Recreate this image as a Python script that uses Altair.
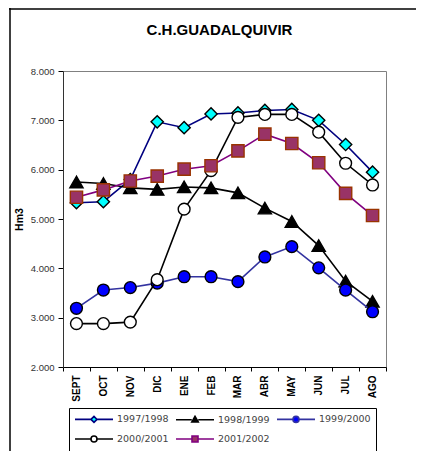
import altair as alt
import pandas as pd

months = ["SEPT", "OCT", "NOV", "DIC", "ENE", "FEB", "MAR", "ABR", "MAY", "JUN", "JUL", "AGO"]
series_names = ["1997/1998", "1998/1999", "1999/2000", "2000/2001", "2001/2002"]

s9798 = [5330, 5350, 5800, 6970, 6850, 7130, 7150, 7200, 7220, 7000, 6510, 5950]
s9899 = [5750, 5720, 5630, 5600, 5650, 5630, 5530, 5220, 4950, 4460, 3740, 3330]
s9900 = [3190, 3560, 3610, 3700, 3830, 3830, 3730, 4230, 4440, 4010, 3560, 3120]
s0001 = [2880, 2880, 2910, 3770, 5200, 5980, 7060, 7120, 7120, 6760, 6130, 5690]
s0102 = [5440, 5590, 5770, 5870, 6010, 6080, 6380, 6720, 6530, 6140, 5520, 5070]
values = [s9798, s9899, s9900, s0001, s0102]

rows = []
for name, vals in zip(series_names, values):
    for m, v in zip(months, vals):
        rows.append({"serie": name, "mes": m, "hm3": v})
df = pd.DataFrame(rows)

line_colors = ["#000080", "#000000", "#3333A0", "#000000", "#800080"]
fill_colors = ["#00FFFF", "#000000", "#0000FF", "#FFFFFF", "#993366"]
stroke_colors = ["#000000", "#000000", "#000000", "#000000", "#993300"]
shapes = ["diamond", "triangle-up", "circle", "circle", "square"]
sizes = [150, 175, 140, 140, 150]

legend_paths = [
    "M-1,0H2.2M3.4,0H6.6M2.2,0L2.8,-0.6L3.4,0L2.8,0.6Z",
    "M-1,0H2.15M3.45,0H6.6M2.15,0.45L2.8,-0.7L3.45,0.45Z",
    "M-1,0H2.2M3.4,0H6.6M2.2,0A0.6,0.6 0 1,0 3.4,0A0.6,0.6 0 1,0 2.2,0Z",
    "M-1,0H2.2M3.4,0H6.6M2.2,0A0.6,0.6 0 1,0 3.4,0A0.6,0.6 0 1,0 2.2,0Z",
    "M-1,0H2.2M3.4,0H6.6M2.2,-0.6H3.4V0.6H2.2Z",
]

W, H = 323, 296

x_enc = alt.X(
    "mes:N", sort=months, title=None,
    scale=alt.Scale(type="band", paddingInner=0, paddingOuter=0),
    axis=alt.Axis(labelAngle=270, labelAlign="right", labelBaseline="middle",
                  labelFont="Liberation Sans", labelFontSize=10, labelFontWeight="bold",
                  labelColor="#000000", labelPadding=4, tickBand="extent",
                  tickColor="#000000", tickSize=4, domainColor="#000000", labelOverlap=False),
)
y_enc = alt.Y(
    "hm3:Q", title="Hm3",
    scale=alt.Scale(domain=[2000, 8000], nice=False),
    axis=alt.Axis(values=[2000, 3000, 4000, 5000, 6000, 7000, 8000],
                  labelExpr="replace(format(datum.value, ',d'), ',', '.')",
                  labelFont="Liberation Sans", labelFontSize=9.5, labelColor="#333333",
                  labelPadding=4, tickColor="#000000", tickSize=5, domainColor="#333333",
                  grid=False, titleFont="Liberation Sans", titleFontSize=10.5,
                  titleFontWeight="bold", titleColor="#000000", titlePadding=6),
)

base = alt.Chart(df)
layers = []
for i, name in enumerate(series_names):
    sub = base.transform_filter(alt.datum.serie == name)
    layers.append(sub.mark_line(color=line_colors[i], strokeWidth=1.6).encode(x=x_enc, y=y_enc))
    layers.append(sub.mark_point(shape=shapes[i], filled=True, fill=fill_colors[i],
                                 stroke=stroke_colors[i], strokeWidth=1.4, size=sizes[i],
                                 opacity=1).encode(x=x_enc, y=y_enc))

legend_layer = base.transform_filter("false").mark_point(filled=True, opacity=1).encode(
    shape=alt.Shape("serie:N", scale=alt.Scale(domain=series_names, range=legend_paths),
                    legend=alt.Legend(title=None, orient="none", legendX=6, legendY=337,
                                      direction="horizontal", columns=3,
                                      symbolSize=100, symbolStrokeWidth=1.6,
                                      symbolOpacity=1, labelOffset=31,
                                      labelFont="DejaVu Sans", labelFontSize=9.5,
                                      labelColor="#444444", strokeColor="#000000",
                                      fillColor="#FFFFFF", padding=5, rowPadding=6,
                                      columnPadding=3, labelLimit=0)),
    fill=alt.Fill("serie:N", scale=alt.Scale(domain=series_names, range=fill_colors), legend=None),
    stroke=alt.Stroke("serie:N", scale=alt.Scale(domain=series_names, range=line_colors), legend=None),
)

frame_data = alt.Chart(pd.DataFrame({"k": [0]}))
frame_left = frame_data.mark_rule(color="#000000", strokeWidth=1.5).encode(
    x=alt.value(-53), y=alt.value(-63), y2=alt.value(H + 84))
frame_top = frame_data.mark_rule(color="#000000", strokeWidth=1.5).encode(
    x=alt.value(-54), x2=alt.value(W + 30), y=alt.value(-62))

chart = alt.layer(*layers, legend_layer, frame_left, frame_top).properties(
    width=W, height=H,
    autosize=alt.AutoSizeParams(type="none"),
    padding={"left": 55, "top": 63, "right": 30, "bottom": 84},
    background="#FFFFFF",
    title=alt.Title("C.H.GUADALQUIVIR", font="Liberation Sans", fontSize=15,
                    fontWeight="bold", color="#000000", anchor="middle", offset=-31, dx=-5),
).configure_view(fill="#C0C0C0", stroke="#808080", strokeWidth=1)

chart.save("out.html", embed_options={"renderer": "svg", "actions": False})
